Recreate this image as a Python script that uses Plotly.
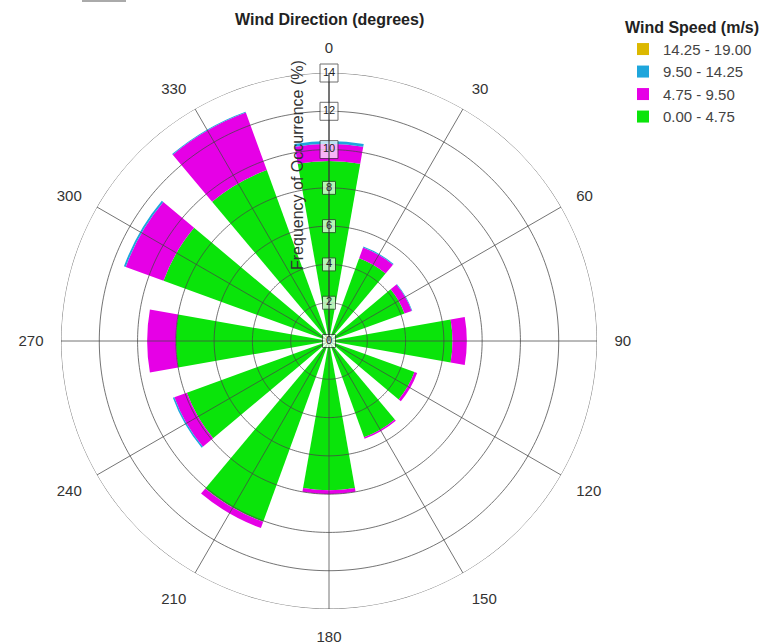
import plotly.graph_objects as go

# Wind rose: frequency of occurrence (%) by direction sector and speed class
directions = [0, 30, 60, 90, 120, 150, 180, 210, 240, 270, 300, 330]
freq_0_475 = [9.4, 4.6, 4.2, 6.45, 4.75, 5.35, 7.8, 10.05, 7.9, 8.0, 9.2, 9.5]
freq_475_950 = [0.9, 0.6, 0.4, 0.75, 0.15, 0.08, 0.2, 0.35, 0.7, 1.5, 2.1, 3.2]
freq_950_1425 = [0.15, 0.05, 0.03, 0.0, 0.0, 0.0, 0.0, 0.0, 0.08, 0.0, 0.1, 0.05]
freq_1425_1900 = [0.0] * 12

class_labels = ["0.00 - 4.75", "4.75 - 9.50", "9.50 - 14.25", "14.25 - 19.00"]
class_colors = ["#0ae40a", "#e600e6", "#1ea6dc", "#dcb800"]
class_values = [freq_0_475, freq_475_950, freq_950_1425, freq_1425_1900]

radial_ticks = [0, 2, 4, 6, 8, 10, 12, 14]
angle_ticks = list(range(0, 360, 30))

FONT = "Liberation Sans, Arial, sans-serif"
W, H = 776, 644
CX, CY, R = 329, 341, 268

fig = go.Figure()

for label, color, vals in zip(class_labels, class_colors, class_values):
    fig.add_trace(go.Barpolar(
        r=vals, theta=directions, width=20, name=label,
        legendgroup=label,
        marker=dict(color=color, line=dict(width=0)),
    ))

# grid rings and spokes drawn on top of the bars
ring_r, ring_t = [], []
for rv in radial_ticks[1:]:
    ring_r += [rv] * 361 + [None]
    ring_t += list(range(361)) + [None]
fig.add_trace(go.Scatterpolar(
    r=ring_r, theta=ring_t, mode="lines", showlegend=False, hoverinfo="skip",
    line=dict(color="rgba(70,70,70,0.75)", width=1),
))
spoke_r, spoke_t = [], []
for a in angle_ticks:
    spoke_r += [0, radial_ticks[-1], None]
    spoke_t += [a, a, None]
fig.add_trace(go.Scatterpolar(
    r=spoke_r, theta=spoke_t, mode="lines", showlegend=False, hoverinfo="skip",
    line=dict(color="rgba(70,70,70,0.75)", width=1),
))

# boxed radial tick labels along the north axis
fig.add_trace(go.Scatterpolar(
    r=radial_ticks, theta=[0] * len(radial_ticks), mode="markers+text",
    text=[str(t) for t in radial_ticks], textposition="middle center",
    textfont=dict(size=11, color="#222", family=FONT),
    marker=dict(symbol="square", size=[13 if t < 10 else 18 for t in radial_ticks],
                color="white", line=dict(color="#333", width=1)),
    showlegend=False, hoverinfo="skip", cliponaxis=False,
))

fig.update_layout(
    width=W, height=H,
    margin=dict(l=0, r=0, t=0, b=0),
    paper_bgcolor="white",
    font=dict(family=FONT, color="#333"),
    polar=dict(
        domain=dict(x=[(CX - R) / W, (CX + R) / W],
                    y=[(H - CY - R) / H, (H - CY + R) / H]),
        bgcolor="white",
        barmode="stack",
        angularaxis=dict(
            rotation=90, direction="clockwise",
            tickmode="array", tickvals=angle_ticks,
            ticktext=[str(a) for a in angle_ticks],
            showgrid=False, showline=False,
            ticks="outside", ticklen=14, tickcolor="rgba(0,0,0,0)",
            tickfont=dict(size=15, color="#333", family=FONT),
        ),
        radialaxis=dict(
            range=[0, 14], showgrid=False, showticklabels=False, ticks="",
            showline=True, linecolor="#333", linewidth=1, angle=90,
        ),
    ),
    legend=dict(
        x=623 / W, y=1 - 12 / H, xanchor="left", yanchor="top",
        traceorder="reversed", tracegroupgap=9,
        font=dict(size=15, color="#444", family=FONT),
        title=dict(text="<b>Wind Speed (m/s)</b>", font=dict(size=16, color="#222", family=FONT)),
        bgcolor="rgba(0,0,0,0)",
    ),
    annotations=[
        dict(text="<b>Wind Direction (degrees)</b>", x=CX / W, y=1 - 20 / H,
             xref="paper", yref="paper", showarrow=False,
             xanchor="center", yanchor="middle",
             font=dict(size=16, color="#222", family=FONT)),
        dict(text="Frequency of Occurrence (%)", x=297 / W, y=1 - 165 / H,
             xref="paper", yref="paper", showarrow=False, textangle=-90,
             xanchor="center", yanchor="middle",
             font=dict(size=16, color="#333", family=FONT)),
    ],
    shapes=[
        dict(type="rect", xref="paper", yref="paper",
             x0=82 / W, x1=126 / W, y0=1 - 2 / H, y1=1,
             fillcolor="#aaaaaa", line=dict(width=0)),
    ],
)

fig.write_html("out.html")
